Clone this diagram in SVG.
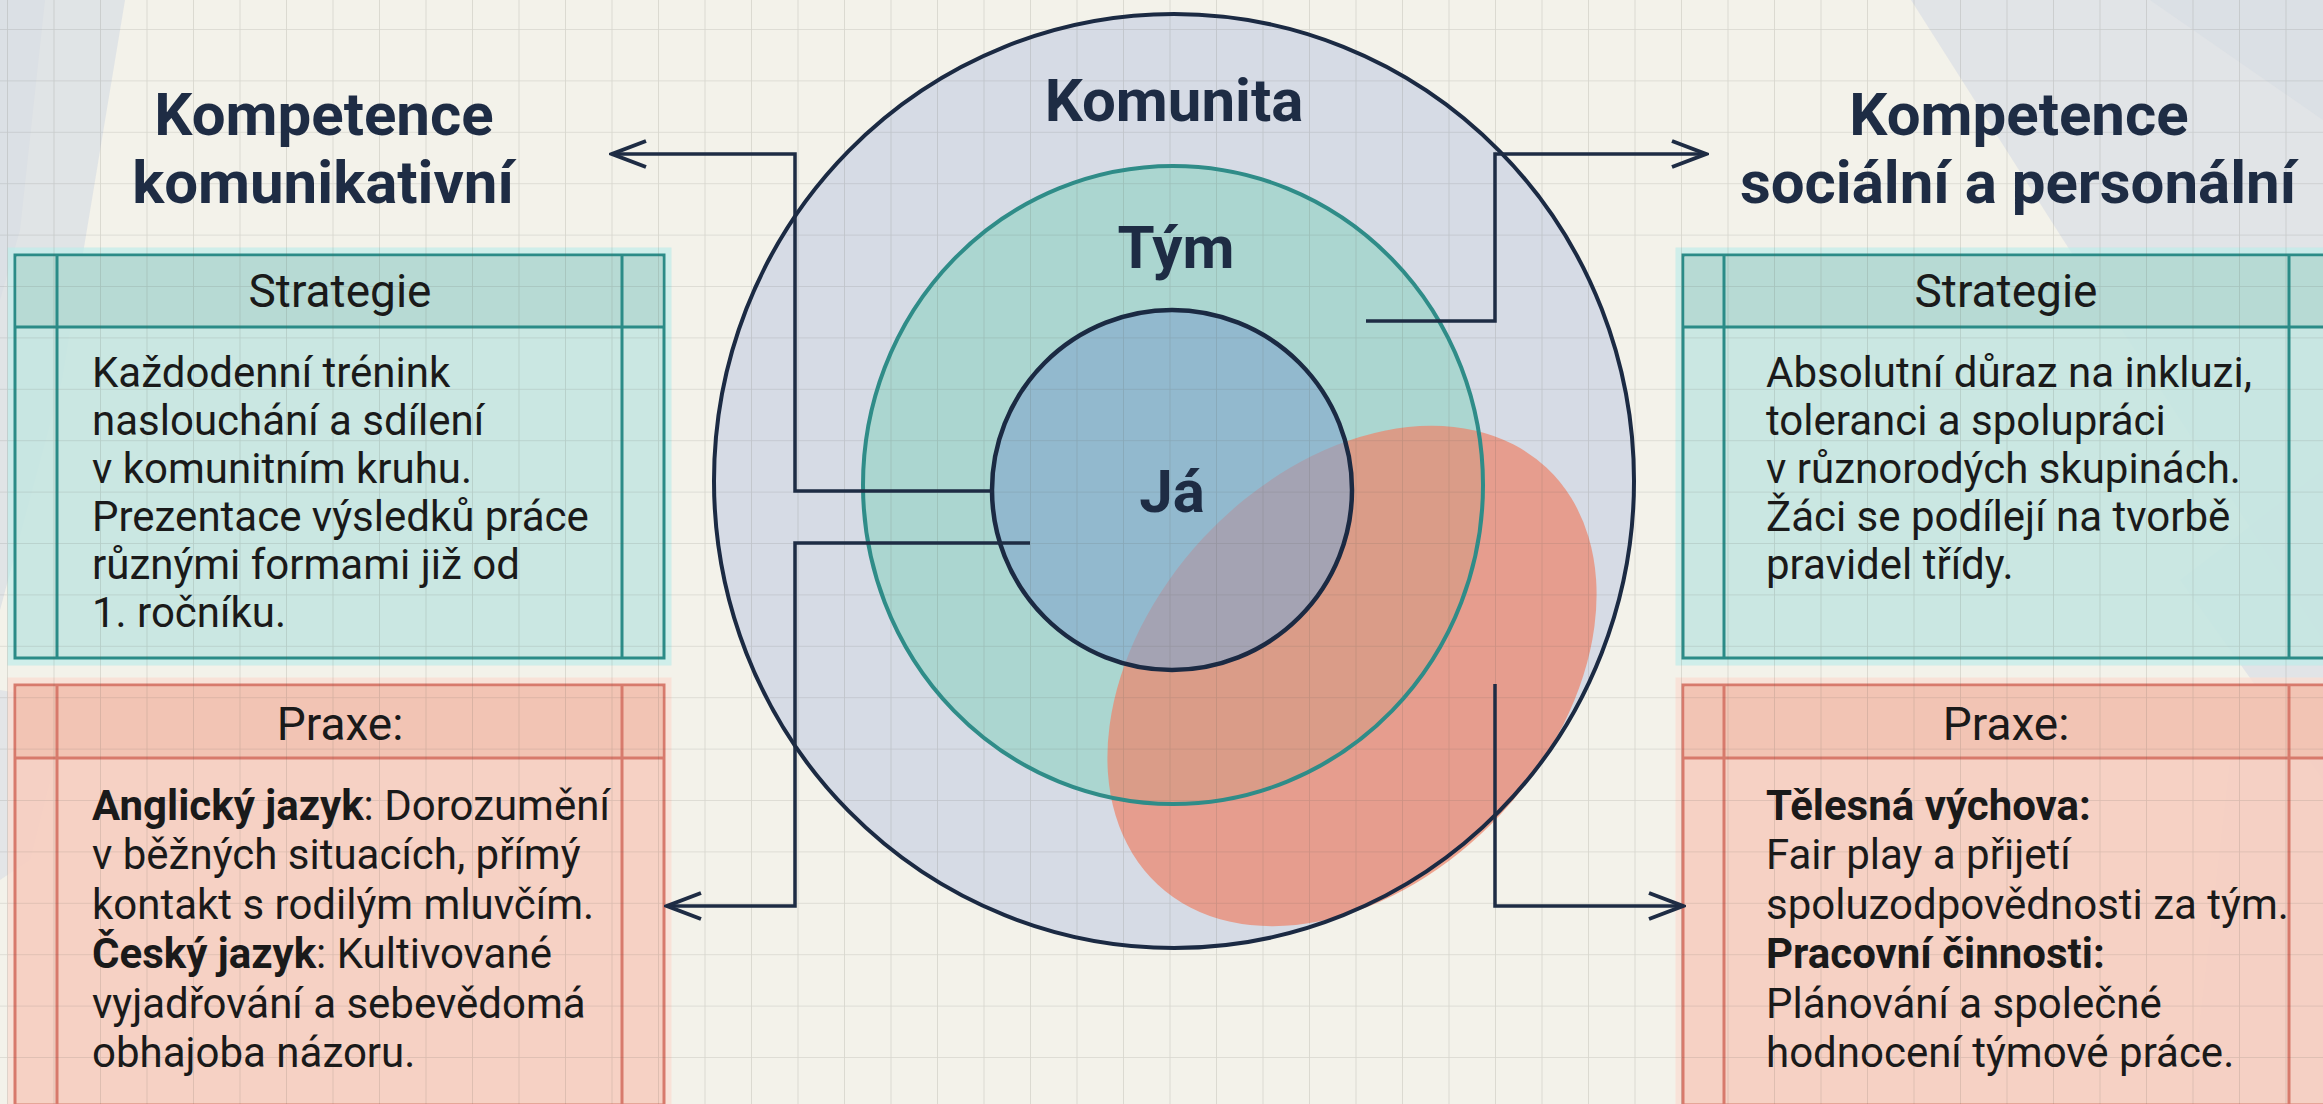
<svg xmlns="http://www.w3.org/2000/svg" width="2323" height="1104" viewBox="0 0 2323 1104">
<defs>
<style>
.title{font-family:Roboto,"Liberation Sans",sans-serif;font-weight:700;font-size:60px;fill:#1E2C44;text-anchor:middle}
.hdr{font-family:Roboto,"Liberation Sans",sans-serif;font-size:46px;fill:#1A1A1A;text-anchor:middle}
.body{font-family:Roboto,"Liberation Sans",sans-serif;font-size:42px;fill:#1A1A1A}
.b{font-weight:700}
.conn{fill:none;stroke:#1E2C44;stroke-width:3.5}
.tealbox{fill:#C5E5E1;fill-opacity:0.9;stroke:#2B8B87;stroke-width:3}
.tealhdr{fill:#B5D8D3;fill-opacity:0.9}
.tealln{stroke:#2B8B87;stroke-width:3}
.coralbox{fill:#F6CDC0;fill-opacity:0.9;stroke:#D77A6C;stroke-width:3}
.coralhdr{fill:#F2C2B3;fill-opacity:0.9}
.coralln{stroke:#D77A6C;stroke-width:3}
.deco{fill:#D6DBE4}
</style>
<pattern id="grid" patternUnits="userSpaceOnUse" x="7" y="29" width="46.5" height="51.4">
<path d="M0,0 V51.4 M0,0 H46.5" fill="none" stroke="#5A5A50" stroke-opacity="0.18" stroke-width="1.7"/>
</pattern>
<marker id="arr" viewBox="0 0 40 32" refX="37" refY="16" markerWidth="40" markerHeight="32" markerUnits="userSpaceOnUse" orient="auto">
<path d="M3,3 L37,16 L3,29" fill="none" stroke="#1E2C44" stroke-width="4"/>
</marker>
</defs>

<rect width="2323" height="1104" fill="#F3F2EA"/>

<g id="background-shapes">
<polygon class="deco" opacity="0.65" points="0,0 125,0 62,380 0,610"/>
<polygon class="deco" opacity="0.5" points="0,0 45,0 20,230 0,300"/>
<polygon class="deco" opacity="0.55" points="0,690 70,702 30,860 0,880"/>
<polygon class="deco" opacity="0.6" points="1911,0 2323,0 2323,640 2062,238"/>
<polygon class="deco" opacity="0.5" points="2150,0 2323,0 2323,120"/>
<polygon class="deco" opacity="0.6" points="2180,580 2323,470 2323,780"/>
<polygon class="deco" opacity="0.4" points="2230,760 2323,700 2323,1104 2190,1104"/>
</g>

<g id="komunita">
<ellipse cx="1174" cy="481" rx="460" ry="467" fill="#D6DBE5"/>
</g>
<g id="tym">
<ellipse cx="1173" cy="485" rx="310" ry="319" fill="#ABD6D0"/>
</g>
<g id="oblast">
<ellipse cx="1352" cy="676" rx="285" ry="203" transform="rotate(-47 1352 676)" fill="rgb(236,133,108)" fill-opacity="0.72"/>
</g>
<g id="ja">
<circle cx="1172" cy="490" r="180" fill="rgb(130,168,205)" fill-opacity="0.62"/>
</g>

<g id="box-left-strategie">
<rect x="11" y="251" width="657" height="411" fill="none" stroke="#BFEDEA" stroke-width="7" opacity="0.7"/>
<rect class="tealbox" x="15" y="255" width="649" height="403"/>
<rect class="tealhdr" x="16.5" y="256.5" width="646" height="70.5"/>
<line class="tealln" x1="15" y1="327" x2="664" y2="327"/>
<line class="tealln" x1="57" y1="255" x2="57" y2="658"/>
<line class="tealln" x1="622" y1="255" x2="622" y2="658"/>
</g>
<g id="box-left-praxe">
<rect x="11" y="681" width="657" height="430" fill="none" stroke="#F9DDD3" stroke-width="7" opacity="0.8"/>
<rect class="coralbox" x="15" y="685" width="649" height="420"/>
<rect class="coralhdr" x="16.5" y="686.5" width="646" height="71.5"/>
<line class="coralln" x1="15" y1="758" x2="664" y2="758"/>
<line class="coralln" x1="57" y1="685" x2="57" y2="1104"/>
<line class="coralln" x1="622" y1="685" x2="622" y2="1104"/>
</g>
<g id="box-right-strategie">
<rect x="1679" y="251" width="660" height="411" fill="none" stroke="#BFEDEA" stroke-width="7" opacity="0.7"/>
<rect class="tealbox" x="1683" y="255" width="650" height="403"/>
<rect class="tealhdr" x="1684.5" y="256.5" width="647" height="70.5"/>
<line class="tealln" x1="1683" y1="327" x2="2323" y2="327"/>
<line class="tealln" x1="1724" y1="255" x2="1724" y2="658"/>
<line class="tealln" x1="2289" y1="255" x2="2289" y2="658"/>
</g>
<g id="box-right-praxe">
<rect x="1679" y="681" width="660" height="430" fill="none" stroke="#F9DDD3" stroke-width="7" opacity="0.8"/>
<rect class="coralbox" x="1683" y="685" width="650" height="420"/>
<rect class="coralhdr" x="1684.5" y="686.5" width="647" height="71.5"/>
<line class="coralln" x1="1683" y1="758" x2="2323" y2="758"/>
<line class="coralln" x1="1724" y1="685" x2="1724" y2="1104"/>
<line class="coralln" x1="2289" y1="685" x2="2289" y2="1104"/>
</g>

<rect id="grid-overlay" width="2323" height="1104" fill="url(#grid)"/>

<g id="ring-strokes" fill="none">
<ellipse cx="1174" cy="481" rx="460" ry="467" stroke="#1B2A43" stroke-width="4"/>
<ellipse cx="1173" cy="485" rx="310" ry="319" stroke="#2F8C88" stroke-width="4"/>
<circle cx="1172" cy="490" r="180" stroke="#1B2A43" stroke-width="4.5"/>
</g>

<g id="connectors">
<path class="conn" d="M993,491 H795 V154 H612" marker-end="url(#arr)"/>
<path class="conn" d="M1030,543 H795 V906 H667" marker-end="url(#arr)"/>
<path class="conn" d="M1366,321 H1495 V154 H1706" marker-end="url(#arr)"/>
<path class="conn" d="M1495,684 V906 H1683" marker-end="url(#arr)"/>
</g>

<g id="ring-labels">
<text class="title" x="1174" y="121">Komunita</text>
<text class="title" x="1176" y="268">Tým</text>
<text class="title" x="1172" y="512">Já</text>
</g>

<g id="title-left">
<text class="title" x="324" y="135">Kompetence</text>
<text class="title" x="323" y="203">komunikativní</text>
</g>
<g id="title-right">
<text class="title" x="2019" y="135">Kompetence</text>
<text class="title" x="2018" y="203">sociální a personální</text>
</g>

<g id="text-left-strategie">
<text class="hdr" x="340" y="307">Strategie</text>
<text class="body" x="92" y="387">Každodenní trénink</text>
<text class="body" x="92" y="435">naslouchání a sdílení</text>
<text class="body" x="92" y="483">v komunitním kruhu.</text>
<text class="body" x="92" y="531">Prezentace výsledků práce</text>
<text class="body" x="92" y="579">různými formami již od</text>
<text class="body" x="92" y="627">1. ročníku.</text>
</g>
<g id="text-left-praxe">
<text class="hdr" x="340" y="740">Praxe:</text>
<text class="body" x="92" y="820"><tspan class="b">Anglický jazyk</tspan>: Dorozumění</text>
<text class="body" x="92" y="869">v běžných situacích, přímý</text>
<text class="body" x="92" y="919">kontakt s rodilým mluvčím.</text>
<text class="body" x="92" y="968"><tspan class="b">Český jazyk</tspan>: Kultivované</text>
<text class="body" x="92" y="1018">vyjadřování a sebevědomá</text>
<text class="body" x="92" y="1067">obhajoba názoru.</text>
</g>
<g id="text-right-strategie">
<text class="hdr" x="2006" y="307">Strategie</text>
<text class="body" x="1766" y="387">Absolutní důraz na inkluzi,</text>
<text class="body" x="1766" y="435">toleranci a spolupráci</text>
<text class="body" x="1766" y="483">v různorodých skupinách.</text>
<text class="body" x="1766" y="531">Žáci se podílejí na tvorbě</text>
<text class="body" x="1766" y="579">pravidel třídy.</text>
</g>
<g id="text-right-praxe">
<text class="hdr" x="2006" y="740">Praxe:</text>
<text class="body b" x="1766" y="820">Tělesná výchova:</text>
<text class="body" x="1766" y="869">Fair play a přijetí</text>
<text class="body" x="1766" y="919">spoluzodpovědnosti za tým.</text>
<text class="body b" x="1766" y="968">Pracovní činnosti:</text>
<text class="body" x="1766" y="1018">Plánování a společné</text>
<text class="body" x="1766" y="1067">hodnocení týmové práce.</text>
</g>
</svg>
